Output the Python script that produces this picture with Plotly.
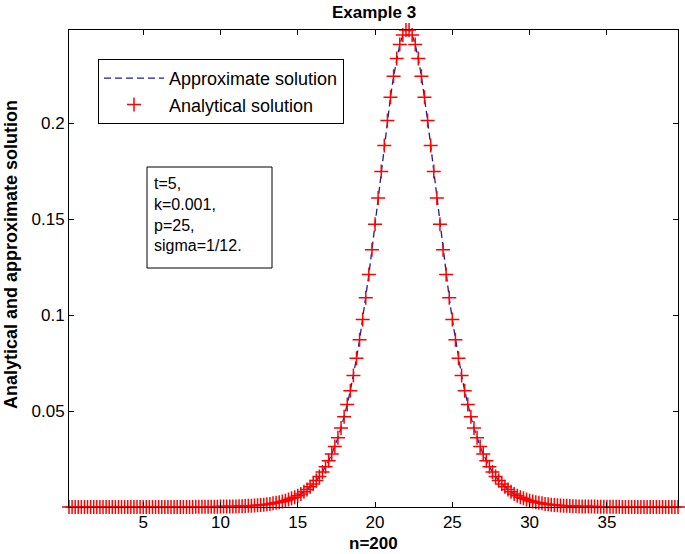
import numpy as np
import plotly.graph_objects as go

# ---------------- data ----------------
n_points = 198
x_start, x_end = 0.2, 39.6
x = np.round(np.linspace(x_start, x_end, n_points), 4)

analytical = [
    0.0, 0.0, 0.0, 0.0, 0.0, 0.0, 0.0, 0.0, 0.0, 0.0,
    0.0, 0.0, 0.0, 0.0, 0.0, 0.0, 0.0, 0.0, 0.0, 0.0,
    0.0, 0.0, 0.0, 0.0, 0.0, 0.0, 0.0, 0.0, 0.0, 0.0,
    0.0, 0.0, 0.0, 0.0, 0.0, 0.0, 0.0, 0.0, 0.0, 0.0,
    0.0,
    0.0001, 0.0001, 0.0001, 0.0001, 0.0001, 0.0001, 0.0001, 0.0001,
    0.0002, 0.0002, 0.0002, 0.0003, 0.0003, 0.0003, 0.0004, 0.0004,
    0.0005, 0.0006, 0.0007, 0.0008, 0.0009, 0.0011, 0.0012, 0.0014,
    0.0016, 0.0019, 0.0022, 0.0025, 0.0029, 0.0033, 0.0039, 0.0045,
    0.0051, 0.0059, 0.0068, 0.0079, 0.0091, 0.0105, 0.0120, 0.0138,
    0.0159, 0.0183, 0.0210, 0.0241, 0.0276, 0.0316, 0.0361, 0.0412,
    0.0470, 0.0534, 0.0606, 0.0686, 0.0775, 0.0872, 0.0977, 0.1091,
    0.1212, 0.1341, 0.1474, 0.1611, 0.1749, 0.1885, 0.2015, 0.2137,
    0.2246, 0.2338, 0.2411, 0.2461, 0.2487,
    0.2487, 0.2461, 0.2411, 0.2338, 0.2246,
    0.2137, 0.2015, 0.1885, 0.1749, 0.1611, 0.1474, 0.1341, 0.1212,
    0.1091, 0.0977, 0.0872, 0.0775, 0.0686, 0.0606, 0.0534, 0.0470,
    0.0412, 0.0361, 0.0316, 0.0276, 0.0241, 0.0210, 0.0183, 0.0159,
    0.0138, 0.0120, 0.0105, 0.0091, 0.0079, 0.0068, 0.0059, 0.0051,
    0.0045, 0.0039, 0.0033, 0.0029, 0.0025, 0.0022, 0.0019, 0.0016,
    0.0014, 0.0012, 0.0011, 0.0009, 0.0008, 0.0007, 0.0006, 0.0005,
    0.0004, 0.0004, 0.0003, 0.0003, 0.0003, 0.0002, 0.0002, 0.0002,
    0.0001, 0.0001, 0.0001, 0.0001, 0.0001, 0.0001, 0.0001, 0.0001,
    0.0, 0.0, 0.0, 0.0, 0.0, 0.0, 0.0, 0.0, 0.0, 0.0,
    0.0, 0.0, 0.0, 0.0, 0.0, 0.0, 0.0, 0.0, 0.0,
]
# the approximate solution coincides with the analytical one in the picture
approximate = list(analytical)

x_tick_vals = [5, 10, 15, 20, 25, 30, 35]
x_tick_text = ["5", "10", "15", "20", "25", "30", "35"]
y_tick_vals = [0.05, 0.1, 0.15, 0.2]
y_tick_text = ["0.05", "0.1", "0.15", "0.2"]

param_lines = ["t=5,", "k=0.001,", "p=25,", "sigma=1/12."]

# ---------------- figure ----------------
W, H = 685, 554
L, R, T, B = 69, 7, 30, 47
pw, ph = W - L - R, H - T - B


def px(xp):
    return (xp - L) / pw


def py(yp):
    return (H - B - yp) / ph


FONT = "Liberation Sans, Arial, sans-serif"

fig = go.Figure()
fig.add_trace(go.Scatter(
    x=x, y=approximate, mode="lines", name="Approximate solution",
    line=dict(color="#1c1c9c", width=1.3, dash="7px,4px"),
    cliponaxis=False,
))
fig.add_trace(go.Scatter(
    x=x, y=analytical, mode="markers", name="Analytical solution",
    marker=dict(symbol="cross-thin", size=10,
                line=dict(color="#ff0000", width=1.5), color="#ff0000"),
    cliponaxis=False,
))

axis_common = dict(
    showgrid=False, zeroline=False, showline=True, linecolor="black",
    linewidth=1, mirror="allticks", ticks="inside", ticklen=5,
    tickcolor="black", tickfont=dict(family=FONT, size=17, color="black"),
    automargin=False,
)
fig.update_xaxes(range=[x_start, x_end], tickvals=x_tick_vals,
                 ticktext=x_tick_text, **axis_common)
fig.update_yaxes(range=[0, 0.2487], tickvals=y_tick_vals,
                 ticktext=y_tick_text, **axis_common)

fig.update_layout(
    width=W, height=H,
    margin=dict(l=L, r=R, t=T, b=B, autoexpand=False),
    paper_bgcolor="white", plot_bgcolor="white",
    font=dict(family=FONT, size=17, color="black"),
    legend=dict(x=px(98), y=py(59), xanchor="left", yanchor="top",
                bordercolor="black", borderwidth=1, bgcolor="white",
                font=dict(family=FONT, size=18), itemwidth=60,
                tracegroupgap=0),
    showlegend=True,
)

# title and axis labels
fig.add_annotation(text="<b>Example 3</b>", xref="paper", yref="paper",
                   x=0.5, y=py(12), xanchor="center", yanchor="middle",
                   showarrow=False, font=dict(family=FONT, size=17))
fig.add_annotation(text="<b>n=200</b>", xref="paper", yref="paper",
                   x=0.5, y=py(543), xanchor="center", yanchor="middle",
                   showarrow=False, font=dict(family=FONT, size=17))
fig.add_annotation(text="<b>Analytical and approximate solution</b>",
                   xref="paper", yref="paper", x=px(11), y=py(255),
                   xanchor="center", yanchor="middle", textangle=-90,
                   showarrow=False, font=dict(family=FONT, size=18))

# parameter text box
fig.add_shape(type="rect", xref="paper", yref="paper",
              x0=px(147), x1=px(272), y0=py(268), y1=py(167),
              line=dict(color="black", width=1), fillcolor="white",
              layer="above")
fig.add_annotation(text="<br>".join(param_lines), xref="paper", yref="paper",
                   x=px(152), y=py(173), xanchor="left", yanchor="top",
                   align="left", showarrow=False,
                   font=dict(family=FONT, size=16))

fig.write_html("out.html")
